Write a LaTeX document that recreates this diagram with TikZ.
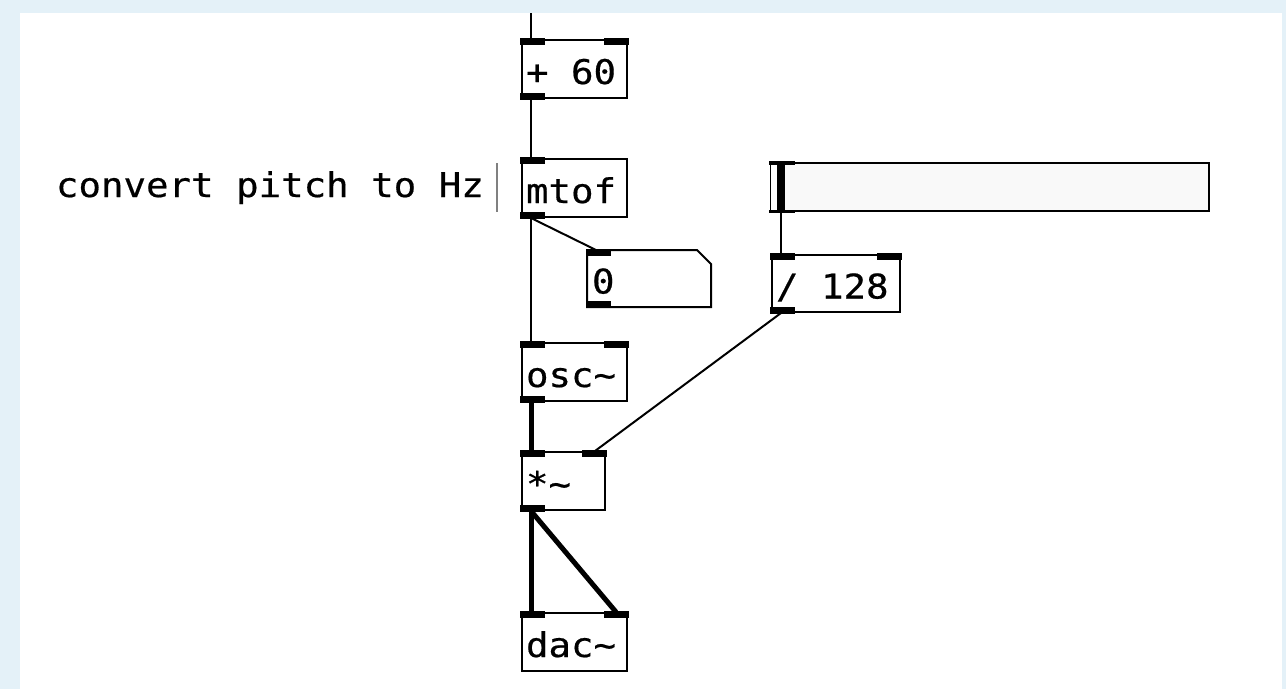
\documentclass[tikz,border=0pt]{standalone}
\usepackage{fontspec}
\newfontfamily\pdfont[FakeStretch=1.1, FakeBold=0.5]{DejaVu Sans Mono}
\newcommand\pdsize{\pdfont\fontsize{34pt}{40pt}\selectfont}
\newcommand\pdlabel[2]{\makebox[#1][l]{#2}}
\definecolor{canvasblue}{HTML}{E4F1F8}
\definecolor{sliderfill}{HTML}{F9F9F9}

\begin{document}
\begin{tikzpicture}[x=1pt, y=-1pt,
    pdobj/.style={draw, line width=2pt, anchor=north west, inner xsep=4pt, inner ysep=0pt,
      minimum height=58pt, text height=30pt, text depth=0pt, font=\pdsize},
    ctrl/.style={line width=2pt},
    sig/.style={line width=5pt}]
    \fill[canvasblue] (0,0) rectangle (1286,689);
    \fill[white] (20,13) rectangle (1282,689);
    \useasboundingbox (0,0) rectangle (1286,689);

    % Objects
    \node[pdobj] (plus) at (521,39) {\pdlabel{97pt}{+ 60}};
    \node[pdobj] (mtof) at (521,158) {\pdlabel{97pt}{mtof}};
    \node[pdobj, draw=none, minimum height=55pt] (num) at (587,250) {\pdlabel{114pt}{0}};
    \node[pdobj, minimum height=57pt] (div) at (771,254) {\pdlabel{120pt}{/ 128}};
    \node[pdobj] (osc) at (521,342) {\pdlabel{97pt}{osc\textasciitilde}};
    \node[pdobj] (mul) at (521,451) {\pdlabel{75pt}{*\textasciitilde}};
    \node[pdobj] (dac) at (521,612) {\pdlabel{97pt}{dac\textasciitilde}};
    \node[draw, line width=2pt, fill=sliderfill, anchor=north west, inner sep=0pt,
      minimum width=438pt, minimum height=48pt] (slider) at (770,162) {};

    % Comment
    \node[font=\pdsize, anchor=base east, inner sep=0pt] (note) at (484,197) {convert pitch to Hz};
    \draw[gray, line width=1.5pt] (497,163) -- (497,212);

    % Number box outline
    \draw[line width=2pt] (num.north west) -- ([shift={(-14,0)}]num.north east)
      -- ([shift={(0,14)}]num.north east) -- (num.south east) -- (num.south west) -- cycle;

    % Slider knob
    \fill[white] ([shift={(1,1)}]slider.north west) rectangle ([shift={(7,-1)}]slider.south west);
    \fill ([shift={(7,1)}]slider.north west) rectangle ([shift={(15,-1)}]slider.south west);

    % Connections
    \coordinate (top) at (531,13);
    \draw[ctrl] (top) -- ([shift={(10,0)}]plus.north west);
    \draw[ctrl] ([shift={(10,0)}]plus.south west) -- ([shift={(10,0)}]mtof.north west);
    \draw[ctrl] ([shift={(10,0)}]mtof.south west) -- ([shift={(9,0)}]num.north west);
    \draw[ctrl] ([shift={(10,0)}]mtof.south west) -- ([shift={(10,0)}]osc.north west);
    \draw[ctrl] ([shift={(11,0)}]slider.south west) -- ([shift={(10,0)}]div.north west);
    \draw[ctrl] ([shift={(10,0)}]div.south west) -- ([shift={(-11,0)}]mul.north east);
    \draw[sig] ([shift={(10,0)}]osc.south west) -- ([shift={(10,0)}]mul.north west);
    \draw[sig] ([shift={(10,0)}]mul.south west) -- ([shift={(10,0)}]dac.north west);
    \draw[sig] ([shift={(10,0)}]mul.south west) -- ([shift={(-12,0)}]dac.north east);

    % Inlets and outlets
    \foreach \b in {plus,mtof,num,div,osc,mul,dac}
      \fill ([shift={(-1,-1)}]\b.north west) rectangle ++(25,7);
    \foreach \b in {plus,div,osc,mul,dac}
      \fill ([shift={(1,-1)}]\b.north east) rectangle ++(-25,7);
    \foreach \b in {plus,mtof,num,div,osc,mul}
      \fill ([shift={(-1,1)}]\b.south west) rectangle ++(25,-7);
    \fill ([shift={(-1,-1)}]slider.north west) rectangle ++(26,3.5);
    \fill ([shift={(-1,1)}]slider.south west) rectangle ++(26,-3.5);
\end{tikzpicture}
\end{document}
